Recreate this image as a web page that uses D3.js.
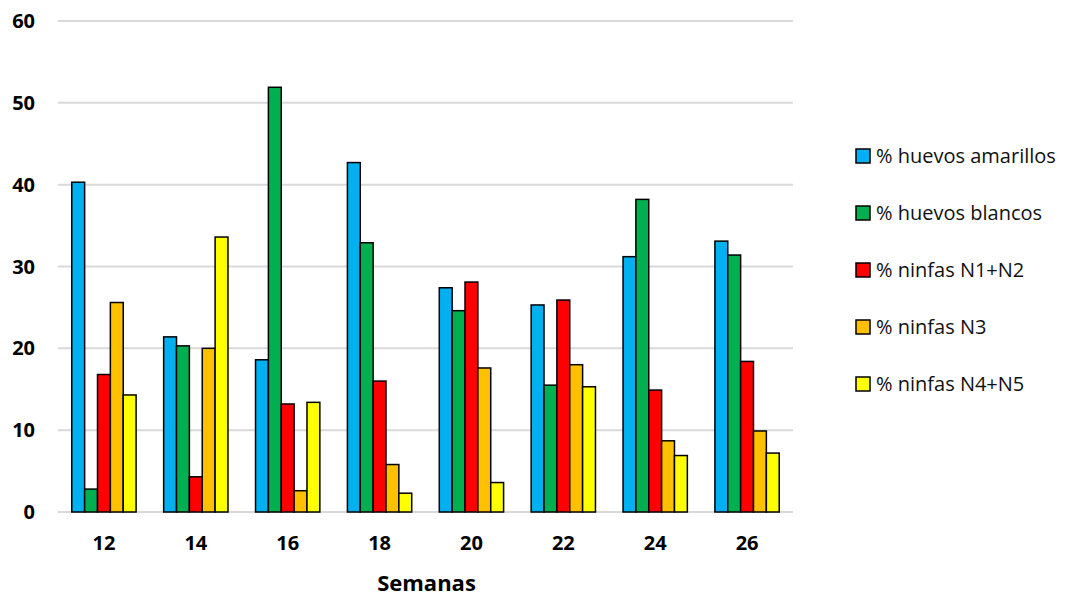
<!DOCTYPE html>
<html>
<head>
<meta charset="utf-8">
<script src="https://cdn.jsdelivr.net/npm/d3@7"></script>
<style>
  body { margin: 0; background: #fff; }
  text { font-family: "Open Sans", Lato, sans-serif; }
</style>
</head>
<body>
<div id="chart"></div>
<script>
// data
const weeks = ["12", "14", "16", "18", "20", "22", "24", "26"];
const seriesNames = ["% huevos amarillos", "% huevos blancos", "% ninfas N1+N2", "% ninfas N3", "% ninfas N4+N5"];
const huevosAmarillos = [40.3, 21.4, 18.6, 42.7, 27.4, 25.3, 31.2, 33.1];
const huevosBlancos   = [2.8, 20.3, 51.9, 32.9, 24.6, 15.5, 38.2, 31.4];
const ninfasN1N2      = [16.8, 4.3, 13.2, 16.0, 28.1, 25.9, 14.9, 18.4];
const ninfasN3        = [25.6, 20.0, 2.6, 5.8, 17.6, 18.0, 8.7, 9.9];
const ninfasN4N5      = [14.3, 33.6, 13.4, 2.3, 3.6, 15.3, 6.9, 7.2];
const yTicks = [0, 10, 20, 30, 40, 50, 60];
const colors = ["#00B0F0", "#00B050", "#FF0000", "#FFC000", "#FFFF00"];

const allSeries = [huevosAmarillos, huevosBlancos, ninfasN1N2, ninfasN3, ninfasN4N5];
const width = 1070, height = 597;
const margin = { top: 21, right: 277, bottom: 85, left: 58 };
const innerW = width - margin.left - margin.right;
const innerH = height - margin.top - margin.bottom;

const svg = d3.select("#chart").append("svg")
  .attr("width", width).attr("height", height);
const g = svg.append("g").attr("transform", `translate(${margin.left},${margin.top})`);

const x0 = d3.scaleBand().domain(weeks).range([0, innerW]).paddingInner(0.3).paddingOuter(0.15);
const x1 = d3.scaleBand().domain(d3.range(seriesNames.length)).range([0, x0.bandwidth()]);
const y = d3.scaleLinear().domain([0, 60]).range([innerH, 0]);

// gridlines
g.selectAll("line.grid").data(yTicks).join("line")
  .attr("class", "grid")
  .attr("x1", 0).attr("x2", innerW)
  .attr("y1", d => y(d)).attr("y2", d => y(d))
  .attr("stroke", "#D9D9D9").attr("stroke-width", 2);

// y tick labels
g.selectAll("text.ytick").data(yTicks).join("text")
  .attr("class", "ytick")
  .attr("x", -23).attr("y", d => y(d))
  .attr("dy", "0.35em")
  .attr("text-anchor", "end")
  .style("font-size", "20px").style("font-weight", "700")
  .text(d => d);

// bars
const groups = g.selectAll("g.week").data(weeks).join("g")
  .attr("class", "week")
  .attr("transform", d => `translate(${x0(d)},0)`);

groups.selectAll("rect")
  .data((w, i) => allSeries.map((s, k) => ({ k, v: s[i] })))
  .join("rect")
  .attr("x", d => x1(d.k))
  .attr("y", d => y(d.v))
  .attr("width", x1.bandwidth())
  .attr("height", d => y(0) - y(d.v))
  .attr("fill", d => colors[d.k])
  .attr("stroke", "#000").attr("stroke-width", 1.5);

// x tick labels
g.selectAll("text.xtick").data(weeks).join("text")
  .attr("class", "xtick")
  .attr("x", d => x0(d) + x0.bandwidth() / 2)
  .attr("y", innerH + 38)
  .attr("text-anchor", "middle")
  .style("font-size", "20px").style("font-weight", "700")
  .text(d => d);

// axis title
svg.append("text")
  .attr("x", margin.left + innerW / 2 + 1)
  .attr("y", 591)
  .attr("text-anchor", "middle")
  .style("font-size", "22px").style("font-weight", "700")
  .text("Semanas");

// legend
const legend = svg.append("g").attr("transform", "translate(856,156)");
const items = legend.selectAll("g").data(seriesNames).join("g")
  .attr("transform", (d, i) => `translate(0,${i * 57})`);
items.append("rect")
  .attr("x", 0).attr("y", -7).attr("width", 14).attr("height", 14)
  .attr("fill", (d, i) => colors[i])
  .attr("stroke", "#000").attr("stroke-width", 1.5);
items.append("text")
  .attr("x", 20).attr("y", 0).attr("dy", "0.35em")
  .style("font-size", "20px").attr("fill", "#111")
  .text(d => d);
</script>
</body>
</html>
